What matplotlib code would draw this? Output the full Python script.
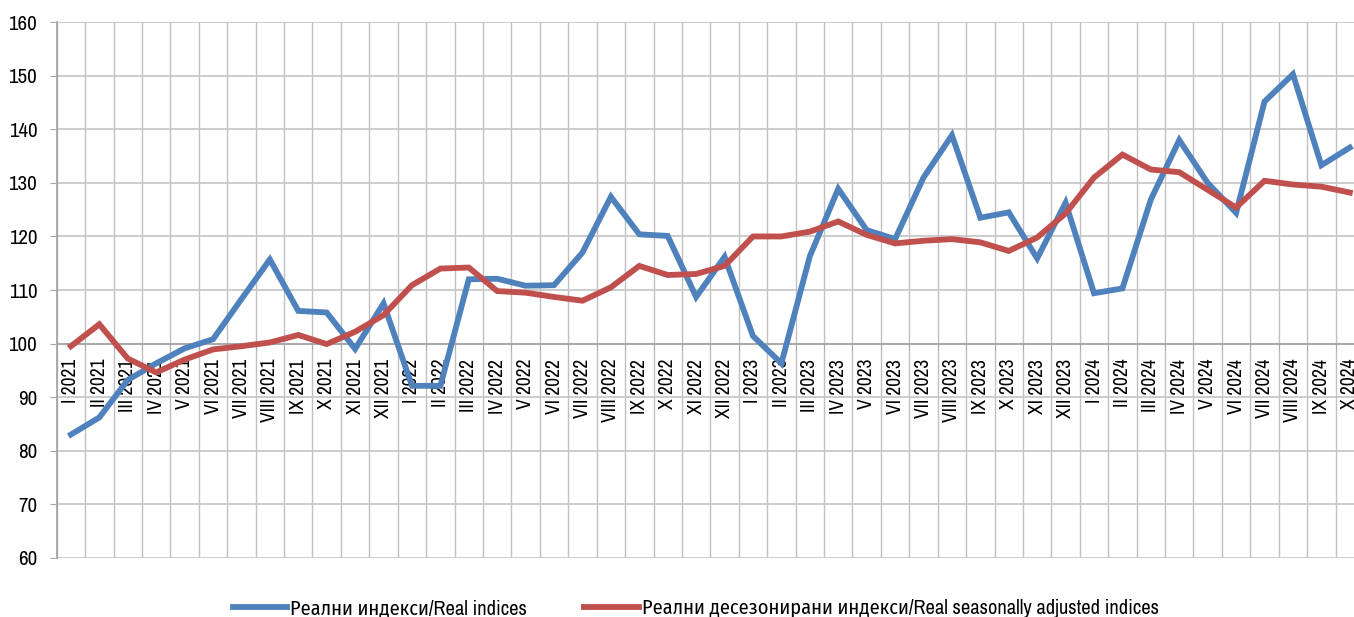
import matplotlib.pyplot as plt
import numpy as np
from matplotlib.ticker import MultipleLocator, FixedLocator

# ---------------------------------------------------------------- data
roman = ["I", "II", "III", "IV", "V", "VI", "VII", "VIII", "IX", "X", "XI", "XII"]
months = [f"{r} {y}" for y in (2021, 2022, 2023) for r in roman] + \
         [f"{r} 2024" for r in roman[:10]]

real = [83.0, 86.2, 93.2, 96.3, 99.1, 100.8, 108.3, 115.7, 106.1, 105.8, 99.0, 107.5,
        92.1, 92.1, 112.0, 112.1, 110.8, 110.9, 117.0, 127.4, 120.4, 120.1, 108.7, 116.2,
        101.4, 96.3, 116.3, 128.9, 121.2, 119.5, 131.0, 138.9, 123.5, 124.5, 115.9, 126.3,
        109.4, 110.3, 126.9, 138.0, 130.0, 124.4, 145.2, 150.3, 133.3, 136.6]

seas_adj = [99.5, 103.6, 97.2, 94.6, 97.0, 98.9, 99.5, 100.2, 101.6, 99.9, 102.2, 105.3,
            110.9, 114.0, 114.2, 109.8, 109.5, 108.7, 108.0, 110.5, 114.5, 112.8, 113.0, 114.5,
            120.0, 120.0, 120.9, 122.8, 120.3, 118.7, 119.2, 119.5, 118.9, 117.3, 119.8, 124.3,
            131.0, 135.3, 132.5, 132.0, 128.7, 125.4, 130.4, 129.7, 129.3, 128.2]

lbl_real = "Реални индекси/Real indices"
lbl_adj = "Реални десезонирани индекси/Real seasonally adjusted indices"

# ---------------------------------------------------------------- plot
plt.rcParams['font.family'] = ['Archivo Narrow', 'Fira Sans Condensed', 'Liberation Sans']

W, H = 1354, 617
fig = plt.figure(figsize=(W / 100, H / 100), dpi=100)
ax = fig.add_axes([56.7 / W, 1 - 557.7 / H, (1364 - 56.7) / W, (557.7 - 22.3) / H])

x = np.arange(len(months))
ax.plot(x, real, color="#4F81BD", lw=4.2, solid_joinstyle="miter", label=lbl_real, zorder=3)
ax.plot(x, seas_adj, color="#C0504D", lw=4.2, solid_joinstyle="miter", label=lbl_adj, zorder=3)

ax.set_xlim(-0.5, len(months) - 0.5)
ax.set_ylim(60, 160)
ax.yaxis.set_major_locator(MultipleLocator(10))

# category axis crossing at 100
ax.spines['bottom'].set_position(('data', 100))
ax.spines['bottom'].set_color("#A6A6A6")
ax.spines['bottom'].set_linewidth(1.3)
ax.spines['left'].set_color("#A6A6A6")
ax.spines['left'].set_linewidth(1.3)
ax.spines['top'].set_visible(False)
ax.spines['right'].set_visible(False)

ax.set_xticks(x)
ax.set_xticklabels(months, rotation=90, va="top", ha="center", fontsize=14)
ax.xaxis.set_minor_locator(FixedLocator(np.arange(-0.5, len(months), 1.0)))
ax.tick_params(axis="x", which="major", length=0, pad=11)
ax.tick_params(axis="x", which="minor", length=4, color="#A6A6A6", direction="out")
ax.tick_params(axis="y", length=5, color="#A6A6A6", pad=9, labelsize=15)

ax.grid(axis="x", which="minor", color="#C0C0C0", lw=1.0)
ax.grid(axis="y", which="major", color="#C8C8C8", lw=1.3)
ax.set_axisbelow(True)

fig.legend(loc="center", bbox_to_anchor=(0.514, 1 - 608.5 / H), ncol=2, frameon=False,
           fontsize=14.7, handlelength=2.65, handletextpad=0.15, columnspacing=2.8)

fig.savefig("out.png", dpi=100)
